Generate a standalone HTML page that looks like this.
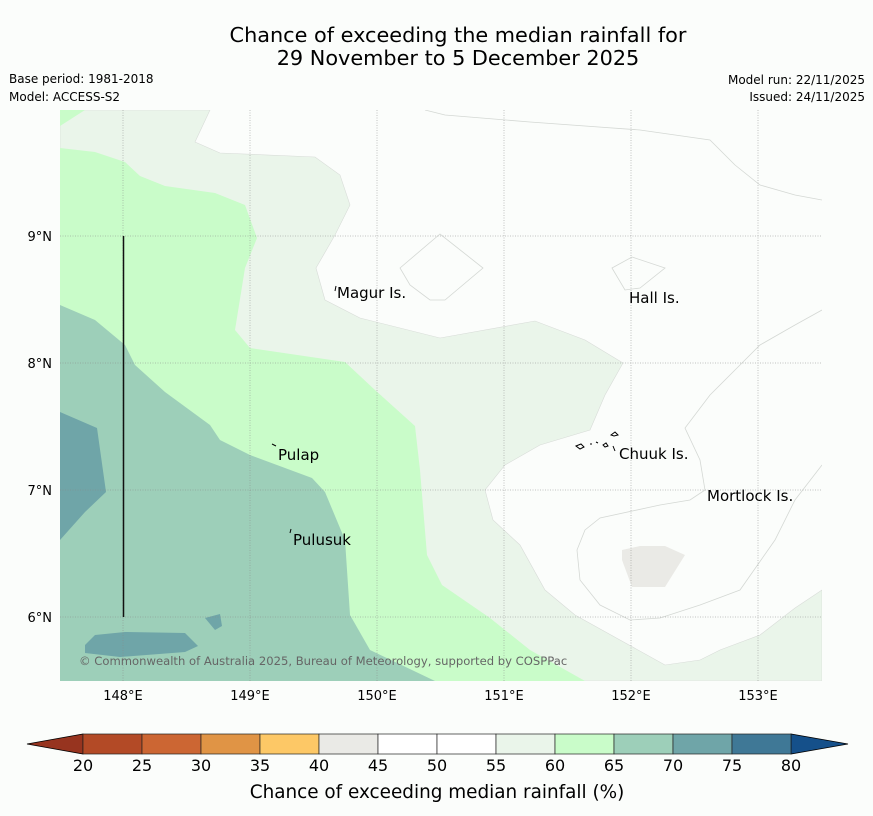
<!DOCTYPE html>
<html><head><meta charset="utf-8"><style>
html,body{margin:0;padding:0;background:#fbfdfb;}
svg{display:block;font-family:"DejaVu Sans","Liberation Sans",sans-serif;}
</style></head><body>
<svg id="fig" width="873" height="816" viewBox="0 0 873 816">
<rect width="873" height="816" fill="#fbfdfb"/>
<text x="458" y="42" font-size="20.8" text-anchor="middle">Chance of exceeding the median rainfall for</text>
<text x="458" y="65" font-size="20.8" text-anchor="middle">29 November to 5 December 2025</text>
<text x="9" y="83" font-size="12">Base period: 1981-2018</text>
<text x="9" y="101" font-size="12">Model: ACCESS-S2</text>
<text x="865" y="84" font-size="12" text-anchor="end">Model run: 22/11/2025</text>
<text x="865" y="101" font-size="12" text-anchor="end">Issued: 24/11/2025</text>
<defs><clipPath id="mc"><rect x="60" y="110" width="762" height="571"/></clipPath></defs>
<g clip-path="url(#mc)">
<rect x="60" y="110" width="762" height="571" fill="#fbfdfb"/>
<polygon fill="#eaf5ea" stroke="#d8dcd8" stroke-width="0.6" points="60,110 210,110 195,142 220,153 315,157 340,175 350,205 335,235 316,268 325,300 360,318 440,338 535,321 585,340 623,363 605,395 590,430 540,445 505,465 485,490 493,520 520,545 545,590 575,615 620,640 665,665 700,660 720,650 760,635 795,608 822,590 822,681 60,681"/>
<polygon fill="#c9fcc9" points="60,148 95,152 125,162 140,176 165,186 215,193 245,205 257,238 245,268 235,330 250,348 345,362 375,390 415,426 420,470 427,555 442,585 490,618 530,650 585,681 60,681"/>
<polygon fill="#c9fcc9" points="60,110 85,110 60,126"/>
<polygon fill="#9dcfb9" points="60,305 95,320 125,345 135,365 165,392 210,425 220,440 250,455 312,478 325,492 345,540 350,615 370,650 435,681 60,681"/>
<polygon fill="#6fa5a8" points="60,412 97,428 106,492 85,512 60,540"/>
<polygon fill="#6fa5a8" points="205,618 220,614 222,626 215,630"/>
<polygon fill="#6fa5a8" points="85,645 95,635 125,632 185,633 198,646 185,652 120,657 85,653"/>
<polygon fill="#eaeae6" points="622,550 640,546 665,546 685,555 665,587 632,587 622,560"/>
<g fill="none" stroke="#d4d8d4" stroke-width="0.8">
<polygon points="400,268 440,234 483,268 445,300 430,300 410,285"/>
<polygon points="612,268 632,257 665,268 640,288 625,290"/>
<polyline points="425,110 445,115 530,122 640,130 710,140 735,165 760,185 795,195 822,200"/>
<polyline points="822,310 795,325 760,345 735,370 710,395 685,428 700,460 705,490 690,500 660,505 600,518 585,530 577,550 580,580 600,605 630,620 660,618 700,605 740,590 775,540 795,500 822,465"/>
</g>
<g id="grid" stroke="#888" stroke-width="0.5" stroke-dasharray="1,1.5"></g>
<line x1="123.5" y1="236" x2="123.5" y2="617" stroke="#111" stroke-width="1.5"/>
<g fill="none" stroke="#000" stroke-width="1">
<path d="M335,291 l1,-5 M272,444 l4,2 M290,533 l1,-4 M576,446 l5,-2 l3,3 l-4,2z M590,444 l2,0 M596,442 l2,1 M603,445 l3,-2 l2,3 l-3,1z M611,435 l4,-3 l3,3 l-4,1z M613,446 l2,5"/>
</g>
<text x="337" y="298" font-size="15">Magur Is.</text>
<text x="629" y="303" font-size="15">Hall Is.</text>
<text x="278" y="460" font-size="15">Pulap</text>
<text x="619" y="459" font-size="15">Chuuk Is.</text>
<text x="707" y="501" font-size="15">Mortlock Is.</text>
<text x="293" y="545" font-size="15">Pulusuk</text>
<text x="79" y="665" font-size="11.6" fill="#666">© Commonwealth of Australia 2025, Bureau of Meteorology, supported by COSPPac</text>
</g>
<g id="axes" font-size="13"></g>
<g id="cbar"></g>
<text x="437" y="798" font-size="18.4" text-anchor="middle">Chance of exceeding median rainfall (%)</text>
</svg>
<script>
const lonTicks=[148,149,150,151,152,153];
const latTicks=[9,8,7,6];
const cbLevels=[20,25,30,35,40,45,50,55,60,65,70,75,80];
const cbColors=["#b34a26","#cc6633","#e09445","#fdc866","#eaeae6","#ffffff","#ffffff","#eaf5ea","#c9fcc9","#9dcfb9","#6fa5a8","#3f7896"];
const cbUnder="#97341f", cbOver="#15508a";
const NS="http://www.w3.org/2000/svg";
const xLon=l=>123+(l-148)*127, yLat=l=>236+(9-l)*127;
const cbX=v=>83+(v-20)*(708/60);
function mk(t,a,p){const e=document.createElementNS(NS,t);for(const k in a)e.setAttribute(k,a[k]);p.appendChild(e);return e;}
const grid=document.getElementById('grid'),axes=document.getElementById('axes'),cb=document.getElementById('cbar');
lonTicks.forEach(l=>{const x=xLon(l);
 const g=mk('line',{x1:x,y1:110,x2:x,y2:681},grid);
 
 
 const t=mk('text',{x:x,y:700,'text-anchor':'middle'},axes);t.textContent=l+'°E';
 
 });
latTicks.forEach(l=>{const y=yLat(l);
 const g=mk('line',{x1:60,y1:y,x2:822,y2:y},grid);
 
 
 const t=mk('text',{x:52,y:y+5,'text-anchor':'end'},axes);t.textContent=l+'°N';
 
 });
const y0=734,y1=754;
const u=mk('polygon',{points:`27,744 ${cbX(20)},${y0} ${cbX(20)},${y1}`,fill:cbUnder,stroke:'#000','stroke-width':0.8},cb);


const o=mk('polygon',{points:`848,744 ${cbX(80)},${y0} ${cbX(80)},${y1}`,fill:cbOver,stroke:'#000','stroke-width':0.8},cb);


cbColors.forEach((c,i)=>{const a=cbX(cbLevels[i]),b=cbX(cbLevels[i+1]);
 const r=mk('rect',{x:a,y:y0,width:b-a,height:y1-y0,fill:c,stroke:'#222','stroke-width':0.7},cb);
 
 });
cbLevels.forEach(v=>{const t=mk('text',{x:cbX(v),y:771,'text-anchor':'middle','font-size':16},cb);t.textContent=v;
 
 });
</script>
</body></html>
